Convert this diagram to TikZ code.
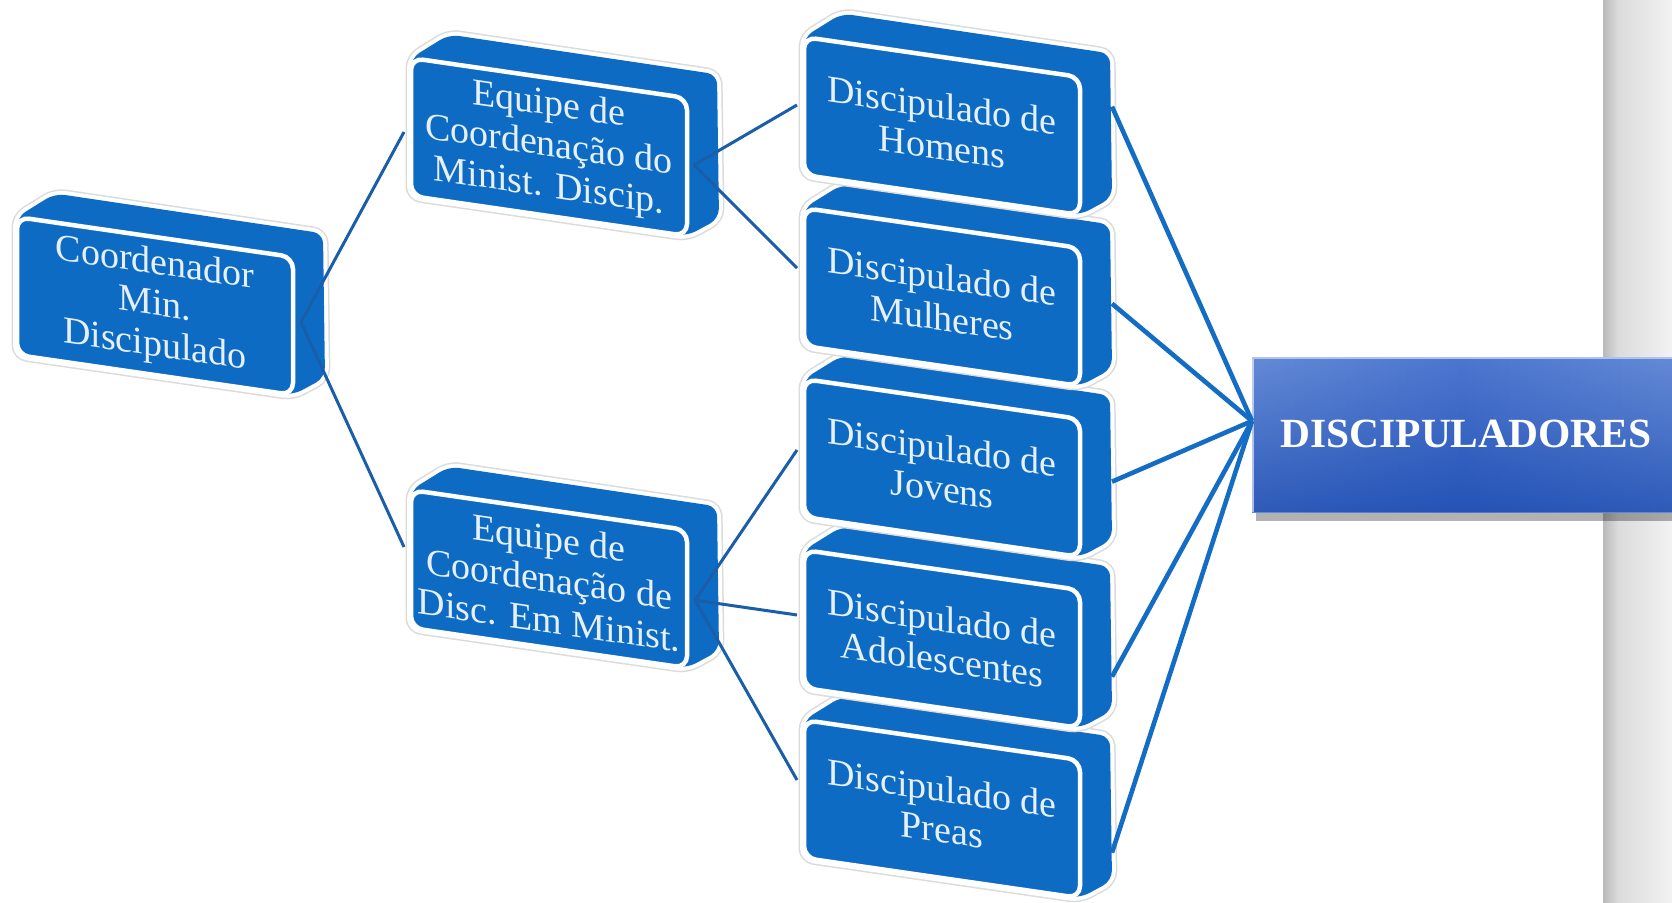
\documentclass[tikz,border=0pt]{standalone}
\usepackage{fontspec}
\setmainfont{Liberation Serif}
\usetikzlibrary{fadings}
\definecolor{boxblue}{HTML}{0E6BC4}
\definecolor{lineblue}{HTML}{1A5EAA}
\definecolor{linebluew}{HTML}{146DC4}
\definecolor{txtcol}{HTML}{E6F0FA}
\definecolor{discL}{HTML}{AEC2EC}
\definecolor{discA}{HTML}{7195DA}
\definecolor{discM}{HTML}{4C76CF}
\definecolor{discR}{HTML}{A8BDEA}
\definecolor{discD}{HTML}{0A3CA6}
\pgfdeclarehorizontalshading{discsh}{100bp}{color(0bp)=(discL); color(12bp)=(discA); color(50bp)=(discM); color(88bp)=(discA); color(100bp)=(discR)}
\tikzset{
  boxtext/.style={align=center, text=txtcol, inner sep=0pt,
    font=\fontsize{38}{41}\selectfont},
  disctext/.style={text=white, inner sep=0pt,
    font=\fontsize{41.5}{44}\selectfont\bfseries},
  conn/.style={draw=lineblue, line width=3},
  connw/.style={draw=linebluew, line width=4.6},
}
% #1 name, #2 left x, #3 top y, #4 left anchor y, #5 right anchor x, #6 right anchor y, #7 text
\newcommand{\tdbox}[7]{%
\begin{scope}[shift={(#2,-#3)}, yslant=-0.145]
\path[fill=boxblue, rounded corners=10, line join=round,
  preaction={draw=gray!28, line width=11},
  preaction={draw=white, line width=8}]
  (0,-138) -- (0,0) -- (38,29) -- (306,28) -- (308,-116) -- (276,-138) -- cycle;
\draw[fill=boxblue, draw=white, line width=4.5, rounded corners=12] (0,0) rectangle (276,-138);
\node[boxtext, transform shape] (#1) at (138,-69) {#7};
\coordinate (#1-l) at (-7,#4);
\coordinate (#1-r) at (#5,#6);
\end{scope}}
\begin{document}
\begin{tikzpicture}[x=1pt,y=1pt]
\useasboundingbox (0,0) rectangle (1672,-902);
\fill[white] (0,0) rectangle (1672,-902);
% right grey band
\shade[left color=gray!55, right color=gray!28] (1603,0) rectangle (1618,-902);
\shade[left color=gray!28, right color=gray!10] (1618,0) rectangle (1672,-902);

% boxes
\tdbox{A}{17}{217}{-69}{284}{-64}{Coordenador\\Min.\\Discipulado}
\tdbox{B}{411}{58}{-75}{283}{-66}{Equipe de\\Coordenação do\\Minist. Discip.}
\tdbox{C}{411}{490}{-58}{284}{-69}{Equipe de\\Coordenação de\\Disc. Em Minist.}
\tdbox{D5}{804}{720}{-61}{308}{-88}{Discipulado de\\Preas}
\tdbox{D4}{804}{550}{-66}{308}{-82}{Discipulado de\\Adolescentes}
\tdbox{D3}{804}{379}{-72}{308}{-58}{Discipulado de\\Jovens}
\tdbox{D2}{804}{208}{-61}{308}{-51}{Discipulado de\\Mulheres}
\tdbox{D1}{804}{37}{-69}{308}{-25}{Discipulado de\\Homens}

% DISCIPULADORES box
\fill[black, opacity=0.3] (1256,-510) rectangle (1672,-521);
\shade[shading=discsh] (1252,-357) rectangle (1672,-512);
\fill[discD, path fading=north, opacity=0.6] (1252,-357) rectangle (1672,-512);
\draw[white, opacity=0.6, line width=1.5] (1253,-357) -- (1253,-512);
\draw[discL, line width=1.5] (1252,-358) -- (1672,-358);
\node[disctext] (disc) at (1466,-434) {DISCIPULADORES};
\coordinate (discW) at (1252,-421);

% connectors
\draw[conn] (A-r) -- (B-l);
\draw[conn] (A-r) -- (C-l);
\draw[conn] (B-r) -- (D1-l);
\draw[conn] (B-r) -- (D2-l);
\draw[conn] (C-r) -- (D3-l);
\draw[conn] (C-r) -- (D4-l);
\draw[conn] (C-r) -- (D5-l);
\foreach \k in {1,...,5} \draw[connw] (D\k-r) -- (discW);
\end{tikzpicture}
\end{document}
